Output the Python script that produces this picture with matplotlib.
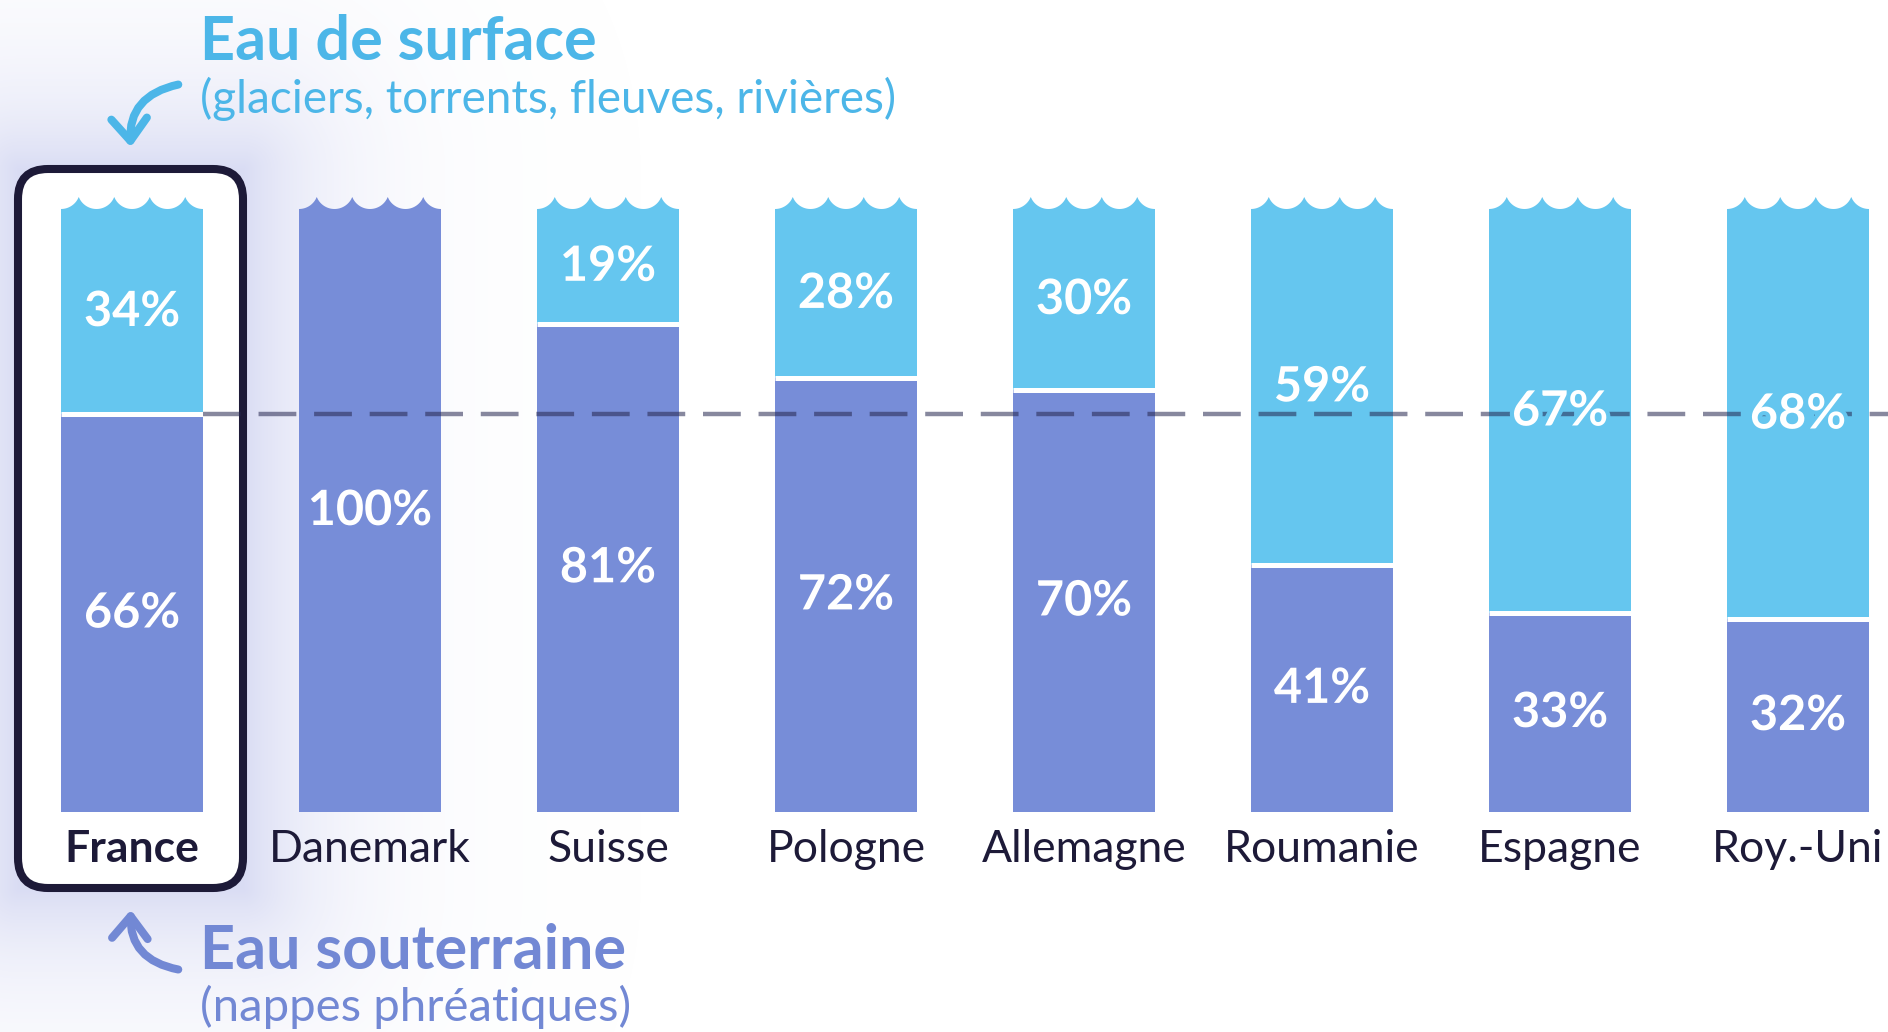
import numpy as np
import matplotlib
matplotlib.use("Agg")
import matplotlib.pyplot as plt
from matplotlib.patches import FancyBboxPatch, FancyArrowPatch, Polygon
import matplotlib.patheffects as pe

plt.rcParams['font.family'] = ['Lato', 'DejaVu Sans']

# data
countries = ["France", "Danemark", "Suisse", "Pologne", "Allemagne", "Roumanie", "Espagne", "Roy.-Uni"]
ground = [66, 100, 81, 72, 70, 41, 33, 32]     # eau souterraine
surface = [34, 0, 19, 28, 30, 59, 67, 68]      # eau de surface

SURF = "#65c6ef"
GROUND = "#778dd8"
NAVY = "#1d1a38"
TITLE_BLUE = "#4cb6e8"
TITLE_PURPLE = "#7288d4"

W, H = 1888, 1032
fig = plt.figure(figsize=(W / 100, H / 100), dpi=100)

# background axes in pixel coords (glow, box, titles, arrows)
ax_bg = fig.add_axes([0, 0, 1, 1])
ax_bg.set_xlim(0, W)
ax_bg.set_ylim(H, 0)
ax_bg.axis("off")

# soft glow around the France box
bx0, bx1, by0, by1 = 18, 243, 169, 888
yy, xx = np.mgrid[0:H, 0:W]
ddx = np.maximum(np.maximum(bx0 - xx, xx - bx1), 0)
ddy = np.maximum(np.maximum(by0 - yy, yy - by1), 0)
d = np.hypot(ddx, ddy)
glow = np.zeros((H, W, 4))
glow[..., 0] = 165 / 255
glow[..., 1] = 172 / 255
glow[..., 2] = 228 / 255
glow[..., 3] = 0.42 * np.exp(-d / 85.0)
ax_bg.imshow(glow, extent=(0, W, H, 0), zorder=0, interpolation="bilinear")

box = FancyBboxPatch((bx0, by0), bx1 - bx0, by1 - by0,
                     boxstyle="round,pad=0,rounding_size=30",
                     facecolor="white", edgecolor=NAVY, linewidth=5.8, zorder=1)
ax_bg.add_patch(box)

# titles
ax_bg.text(200, 42, "Eau de surface", color=TITLE_BLUE, fontsize=44, fontweight="bold",
           va="center", ha="left")
ax_bg.text(200, 99, "(glaciers, torrents, fleuves, rivières)", color=TITLE_BLUE, fontsize=33,
           va="center", ha="left")
ax_bg.text(200, 951, "Eau souterraine", color=TITLE_PURPLE, fontsize=44, fontweight="bold",
           va="center", ha="left")
ax_bg.text(200, 1007, "(nappes phréatiques)", color=TITLE_PURPLE, fontsize=34,
           va="center", ha="left")

# curved arrows
a1 = FancyArrowPatch((181, 84), (131, 150), connectionstyle="arc3,rad=0.45",
                     arrowstyle="->,head_length=1.0,head_width=0.8", mutation_scale=16,
                     color=TITLE_BLUE, linewidth=5.8, capstyle="round", joinstyle="round", zorder=3)
a2 = FancyArrowPatch((181, 970), (131, 907), connectionstyle="arc3,rad=-0.45",
                     arrowstyle="->,head_length=1.0,head_width=0.8", mutation_scale=16,
                     color=TITLE_PURPLE, linewidth=5.8, capstyle="round", joinstyle="round", zorder=3)
ax_bg.add_patch(a1)
ax_bg.add_patch(a2)

# main bar axes
ax = fig.add_axes([0, (H - 812) / H, 1, 603 / H])
ax.patch.set_alpha(0)
ax.set_ylim(0, 100)
ax.set_xlim(-132 / 238, (W - 132) / 238)
ax.axis("off")

x = np.arange(len(countries))
bw = 142 / 238
ax.bar(x, ground, width=bw, color=GROUND, zorder=2)
ax.bar(x, surface, bottom=ground, width=bw, color=SURF, zorder=2)

# white separators between segments
for i in range(len(countries)):
    if surface[i] > 0 and ground[i] > 0:
        ax.plot([i - bw / 2, i + bw / 2], [ground[i], ground[i]], color="white",
                linewidth=3.6, solid_capstyle="butt", zorder=3)

# wavy tops
px_x = 1 / 238
px_y = 100 / 603
period = 142 / 4
sag = 12
R = (period ** 2 / 4 + sag ** 2) / (2 * sag)
for i in range(len(countries)):
    top_col = SURF if surface[i] > 0 else GROUND
    xs, ys = [], []
    left = i - bw / 2
    for k in range(5):
        c = k * period  # dip centre in px from left edge
        u = np.linspace(-period / 2, period / 2, 30)
        u = u[(c + u >= 0) & (c + u <= 142)]
        h = R - np.sqrt(R ** 2 - u ** 2)
        xs.extend(left + (c + u) * px_x)
        ys.extend(100 + h * px_y)
    pts = [(left, 100)] + list(zip(xs, ys)) + [(i + bw / 2, 100)]
    ax.add_patch(Polygon(pts, closed=True, facecolor=top_col, edgecolor="none",
                         zorder=2, clip_on=False))

# dashed reference line at France level
ax.plot([bw / 2, 8], [ground[0], ground[0]], color="#25264f", alpha=0.55,
        linewidth=3.2, dashes=(8.5, 4), zorder=4, clip_on=False)

# value labels
for i in range(len(countries)):
    if ground[i] > 0:
        ax.text(i, ground[i] / 2, f"{ground[i]}%", color="white", fontsize=35,
                fontweight="bold", ha="center", va="center", zorder=5,
                path_effects=[pe.withStroke(linewidth=6, foreground=GROUND)])
    if surface[i] > 0:
        ax.text(i, ground[i] + surface[i] / 2, f"{surface[i]}%", color="white", fontsize=35,
                fontweight="bold", ha="center", va="center", zorder=5,
                path_effects=[pe.withStroke(linewidth=6, foreground=SURF)])

# country labels
for i, name in enumerate(countries):
    ax.text(i, -37 * px_y, name, color=NAVY, fontsize=32,
            fontweight="bold" if i == 0 else "normal",
            ha="center", va="center", clip_on=False)

fig.savefig("out.png", dpi=100, facecolor="white")
